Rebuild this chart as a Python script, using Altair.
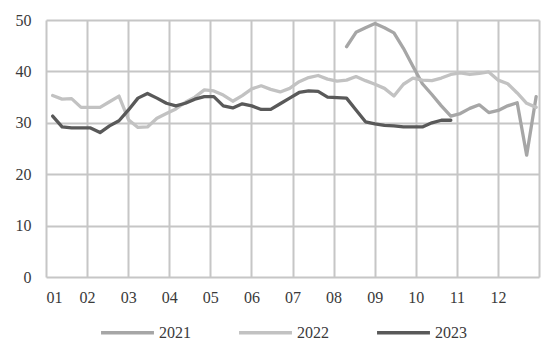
import altair as alt
import pandas as pd

years = ["2021", "2022", "2023"]
weeks = list(range(1, 53))

v2021 = [None] * 31 + [44.8, 47.6, 48.5, 49.3, 48.5, 47.5, 44.5, 41.0, 37.6, 35.5,
                       33.3, 31.3, 31.8, 32.8, 33.5, 32.0, 32.4, 33.3, 33.9, 23.7, 35.1]
v2022 = [35.3, 34.6, 34.7, 33.0, 33.0, 33.0, 34.1, 35.2, 30.6, 29.1,
         29.2, 30.9, 31.8, 32.7, 34.0, 35.0, 36.4, 36.2, 35.4, 34.2,
         35.3, 36.6, 37.2, 36.5, 36.0, 36.7, 38.0, 38.8, 39.2, 38.5,
         38.1, 38.3, 39.0, 38.2, 37.5, 36.7, 35.2, 37.5, 38.7, 38.3,
         38.2, 38.7, 39.4, 39.7, 39.4, 39.6, 39.9, 38.3, 37.6, 35.8,
         33.8, 33.0]
v2023 = [31.3, 29.2, 29.0, 29.0, 29.0, 28.1, 29.4, 30.4, 32.5, 34.8,
         35.7, 34.8, 33.8, 33.3, 33.8, 34.6, 35.1, 35.1, 33.3, 32.9,
         33.7, 33.3, 32.6, 32.6, 33.7, 34.8, 35.9, 36.2, 36.1, 35.0,
         34.9, 34.8, 32.5, 30.2, 29.8, 29.5, 29.4, 29.2, 29.2, 29.2,
         30.0, 30.5, 30.5] + [None] * 9

month_ticks = list(range(1, 14))
y_ticks = [0, 10, 20, 30, 40, 50]

rows = []
for yr, vals in zip(years, [v2021, v2022, v2023]):
    for w, v in zip(weeks, vals):
        if v is not None:
            rows.append({"year": yr, "week": w, "v": v})
df = pd.DataFrame(rows)
df["m"] = 1 + (df["week"] - 0.3) * 12 / 52

colors = ["#a6a6a6", "#c2c2c2", "#595959"]
widths = [3.3, 3.3, 5.5]
font = "'Liberation Serif', 'Times New Roman', Times, serif"
grid_color = "#c6c6c6"
text_color = "#3a3a3a"

legend = alt.Legend(
    title=None, orient="none", legendX=53, legendY=284, direction="horizontal",
    symbolType="stroke", symbolSize=2800, labelFont=font, labelFontSize=16,
    labelColor=text_color, columnPadding=41, labelOffset=3,
)

chart = alt.Chart(df).mark_line(strokeCap="round", strokeJoin="round").encode(
    x=alt.X("m:Q", scale=alt.Scale(domain=[1, 13], nice=False, zero=False),
            axis=alt.Axis(values=month_ticks, title=None, grid=True, ticks=False, domain=False,
                          labelExpr="datum.value > 12 ? '' : (datum.value < 10 ? '0' + datum.value : '' + datum.value)",
                          labelPadding=12, labelFont=font, labelFontSize=16, labelColor=text_color,
                          gridColor=grid_color, gridWidth=2)),
    y=alt.Y("v:Q", scale=alt.Scale(domain=[0, 50], nice=False),
            axis=alt.Axis(values=y_ticks, title=None, grid=True, ticks=False, domain=False,
                          labelPadding=15, labelFont=font, labelFontSize=16, labelColor=text_color,
                          gridColor=grid_color, gridWidth=2)),
    color=alt.Color("year:O", scale=alt.Scale(domain=years, range=colors), legend=legend),
    strokeWidth=alt.StrokeWidth("year:O", scale=alt.Scale(domain=years, range=widths), legend=legend),
).properties(
    width=493, height=257,
    autosize=alt.AutoSizeParams(type="none"),
    padding={"left": 46, "top": 20, "right": 12, "bottom": 74},
).configure_view(stroke=None)

chart.save("out.html", embed_options={"renderer": "svg", "actions": False})
